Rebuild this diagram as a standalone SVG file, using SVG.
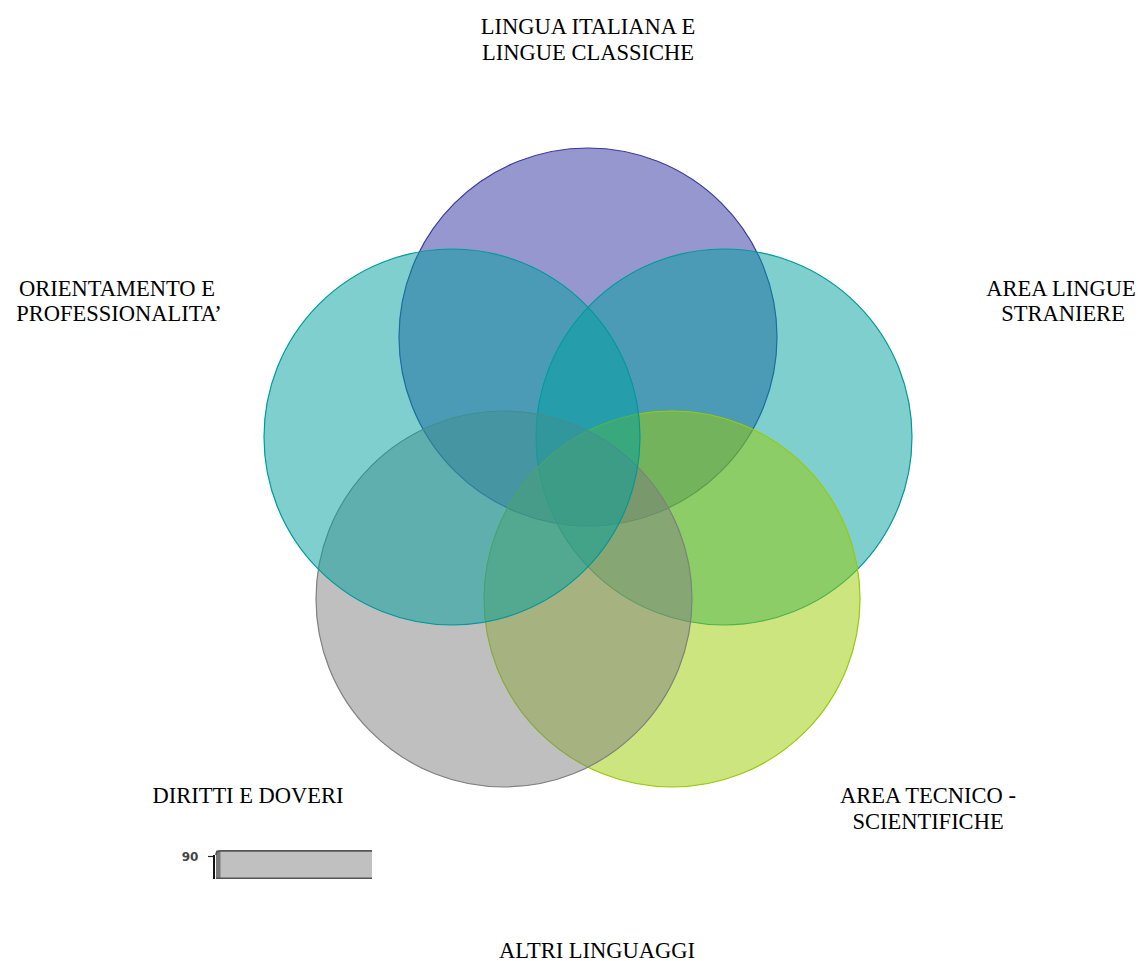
<svg xmlns="http://www.w3.org/2000/svg" width="1139" height="961" viewBox="0 0 1139 961">
<style>
.lbl{font-family:"Liberation Serif","Times New Roman",serif;font-size:22.5px;fill:#000;text-anchor:middle}
.c{stroke-width:1.2;fill-opacity:0.5}
</style>
<rect width="1139" height="961" fill="#fff"/>
<g id="circles">
<g id="node-lingua-italiana"><circle class="c" cx="588" cy="337" r="189" fill="#3030A0" stroke="#3A3A9A"/></g>
<g id="node-area-lingue"><circle class="c" cx="724" cy="437" r="188" fill="#00A0A0" stroke="#009A9A"/></g>
<g id="node-area-tecnico"><circle class="c" cx="672" cy="599" r="188" fill="#99CC00" stroke="#99CC00"/></g>
<g id="node-diritti"><circle class="c" cx="504" cy="599" r="188" fill="#808080" stroke="#808080"/></g>
<g id="node-orientamento"><circle class="c" cx="452" cy="437" r="188" fill="#00A0A0" stroke="#009A9A"/></g>
</g>
<g id="labels">
<text class="lbl" x="588" y="34">LINGUA ITALIANA E</text>
<text class="lbl" x="588" y="60">LINGUE CLASSICHE</text>
<text class="lbl" x="117" y="296">ORIENTAMENTO E</text>
<text class="lbl" x="119" y="321">PROFESSIONALITA’</text>
<text class="lbl" x="1061" y="296">AREA LINGUE</text>
<text class="lbl" x="1063" y="321">STRANIERE</text>
<text class="lbl" x="248" y="803">DIRITTI E DOVERI</text>
<text class="lbl" x="928" y="803">AREA TECNICO -</text>
<text class="lbl" x="928" y="829">SCIENTIFICHE</text>
<text class="lbl" x="597" y="958">ALTRI LINGUAGGI</text>
</g>
<g id="bar">
<text x="190" y="861" font-family="DejaVu Sans,sans-serif" font-size="12" font-weight="bold" fill="#444" text-anchor="middle">90</text>
<line x1="208" y1="856.5" x2="215" y2="856.5" stroke="#222" stroke-width="1.2"/>
<rect x="216" y="850" width="156" height="29" fill="#C0C0C0"/>
<rect x="216" y="851" width="4.5" height="28" fill="#7a7a7a"/>
<line x1="214" y1="855" x2="214" y2="879" stroke="#111" stroke-width="2"/>
<path d="M216,855 Q216,850.8 221,850.8 L372,850.8" fill="none" stroke="#555" stroke-width="1.8"/>
<line x1="216" y1="878.3" x2="372" y2="878.3" stroke="#555" stroke-width="1.5"/>
</g>
<g id="connectors"/>
</svg>
